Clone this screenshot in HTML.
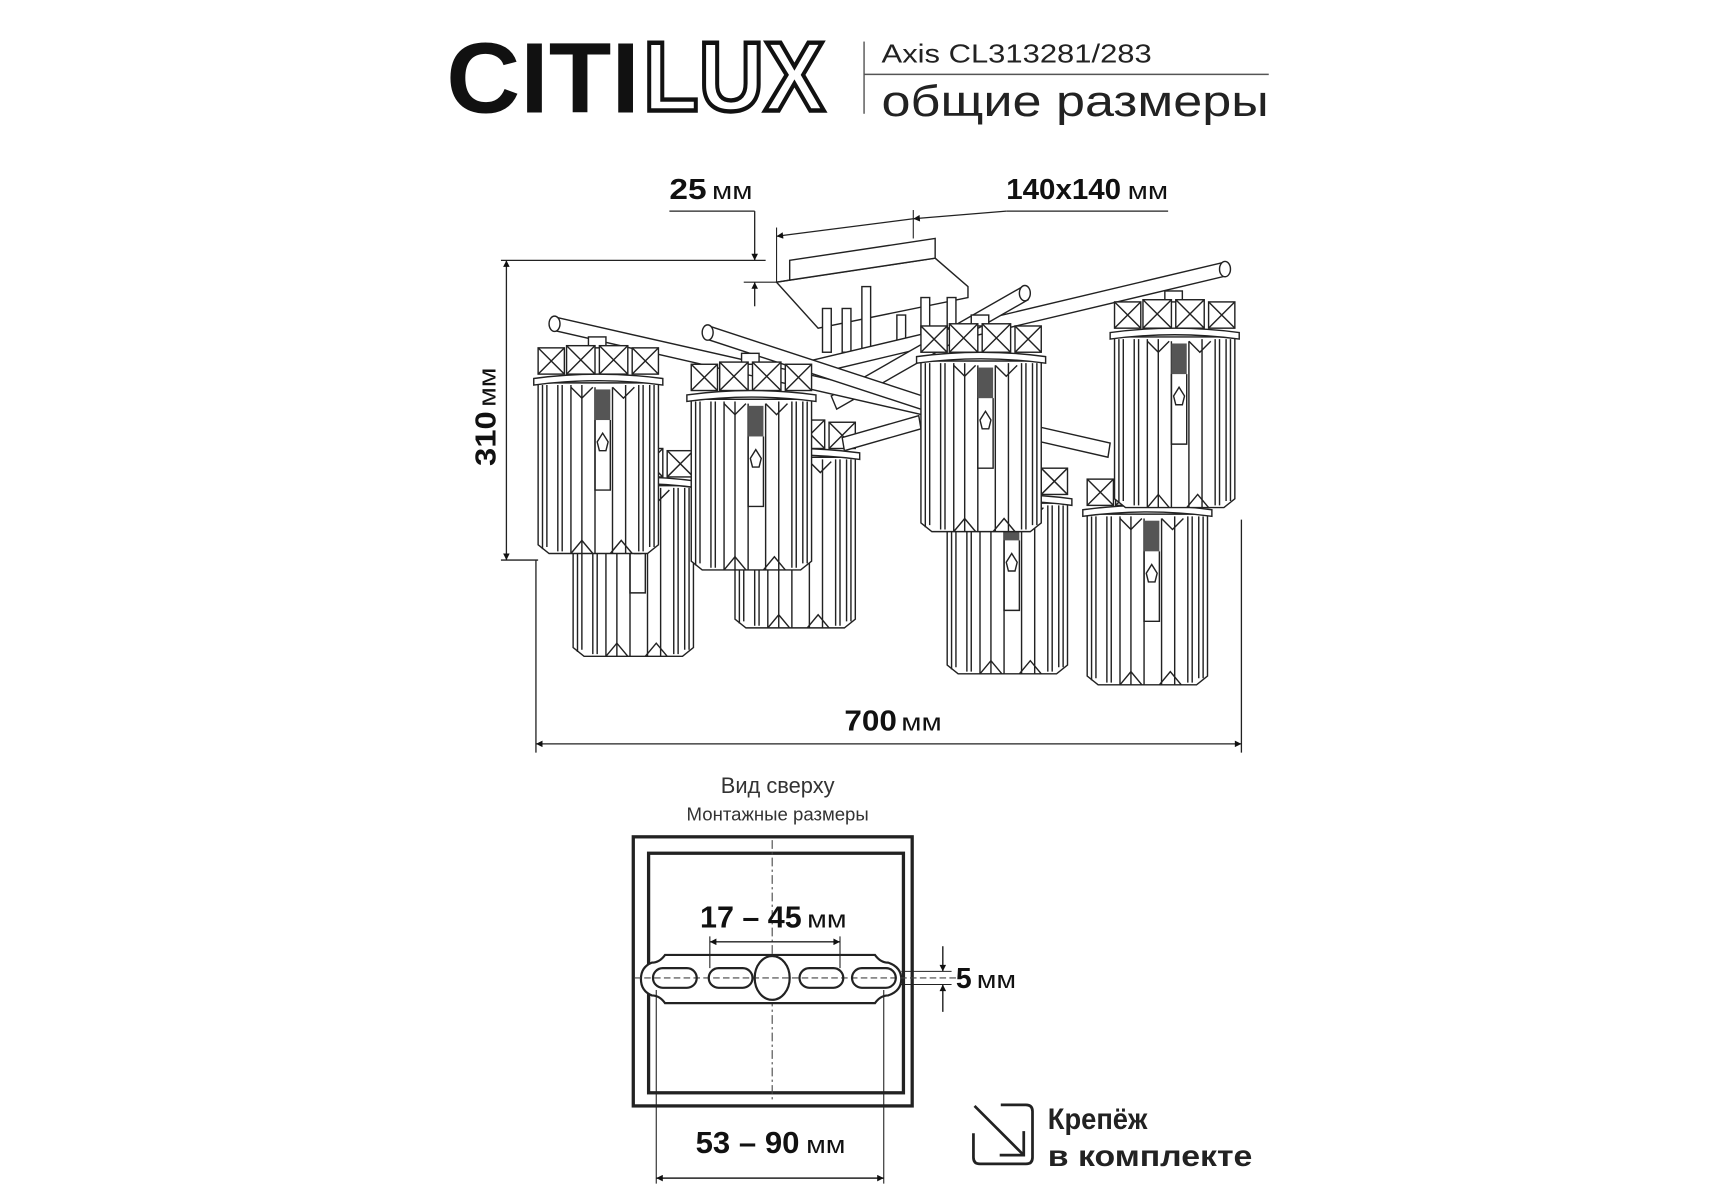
<!DOCTYPE html>
<html><head><meta charset="utf-8"><style>
html,body{margin:0;padding:0;background:#fff;}
svg{display:block}
text{font-family:"Liberation Sans",sans-serif;}
</style></head><body>
<svg width="1715" height="1200" viewBox="0 0 1568 1097" preserveAspectRatio="none" xmlns="http://www.w3.org/2000/svg">
<defs>
<marker id="ar" viewBox="0 0 10 10" refX="10" refY="5" markerWidth="9" markerHeight="6" orient="auto-start-reverse" markerUnits="userSpaceOnUse"><path d="M0,0 L10,5 L0,10 z" fill="#111"/></marker>
<g id="cyl" fill="#fff" stroke="#222" stroke-width="1.3">
  <path d="M4,42 L4,190 L14,198 L104,198 L114,190 L114,42 Z"/>
  <rect x="50" y="0" width="16" height="10"/>
  <rect x="4" y="10" width="24" height="24"/><rect x="30" y="8" width="26" height="26"/><rect x="60" y="8" width="26" height="26"/><rect x="90" y="10" width="24" height="24"/>
  <path d="M30,8 L56,34 M56,8 L30,34 M60,8 L86,34 M86,8 L60,34 M4,10 L28,34 M28,10 L4,34 M90,10 L114,34 M114,10 L90,34" fill="none"/>
  <path d="M0,38 Q59,30 118,38 L118,44 Q59,36 0,44 Z"/>
  <path d="M8,44 V194 M12,44 V192 M22,44 V196 M26,44 V196 M34,44 V198 M44,44 V198 M56,46 V198 M72,46 V198 M84,44 V198 M96,44 V196 M100,44 V196 M106,44 V192 M110,44 V192" fill="none"/>
  <path d="M34,46 L44,56 L54,46 M72,46 L82,56 L92,46 M34,198 L44,186 L54,198 M70,198 L80,186 L90,198" fill="none"/>
  <rect x="56" y="48" width="14" height="28" fill="#555" stroke="none"/>
  <path d="M56,76 V140 H70 V76 M58,96 L63,88 L68,96 L66,104 H60 Z" fill="none"/>
</g>
</defs>

<!-- Logo -->
<text x="408" y="103" font-size="92" font-weight="bold" textLength="177" lengthAdjust="spacingAndGlyphs" fill="#111">CITI</text>
<text x="588" y="101" font-size="90" font-weight="bold" textLength="166" lengthAdjust="spacingAndGlyphs" fill="#fff" stroke="#111" stroke-width="4">LUX</text>
<line x1="790" y1="38" x2="790" y2="104" stroke="#555" stroke-width="1.3"/>
<line x1="790" y1="68" x2="1160" y2="68" stroke="#555" stroke-width="1.3"/>
<text x="806" y="57" font-size="24" textLength="247" lengthAdjust="spacingAndGlyphs" fill="#222">Axis CL313281/283</text>
<text x="806" y="106" font-size="40" textLength="354" lengthAdjust="spacingAndGlyphs" fill="#222">общие размеры</text>

<!-- dimensions top -->
<text x="612" y="182" font-size="26" font-weight="bold" fill="#111" textLength="34" lengthAdjust="spacingAndGlyphs">25</text>
<text x="651" y="182" font-size="22" fill="#111" textLength="37" lengthAdjust="spacingAndGlyphs">мм</text>
<line x1="612" y1="193" x2="690" y2="193" stroke="#222" stroke-width="1.2"/>
<line x1="690" y1="193" x2="690" y2="238" stroke="#222" stroke-width="1.2" marker-end="url(#ar)"/>
<line x1="690" y1="280" x2="690" y2="258" stroke="#222" stroke-width="1.2" marker-end="url(#ar)"/>
<line x1="680" y1="258" x2="710" y2="258" stroke="#222" stroke-width="1"/>
<text x="920" y="182" font-size="26" font-weight="bold" fill="#111" textLength="105" lengthAdjust="spacingAndGlyphs">140x140</text>
<text x="1031" y="182" font-size="22" fill="#111" textLength="37" lengthAdjust="spacingAndGlyphs">мм</text>
<line x1="920" y1="193" x2="1068" y2="193" stroke="#222" stroke-width="1.2"/>
<line x1="920" y1="193" x2="835" y2="200" stroke="#222" stroke-width="1.2" marker-end="url(#ar)"/>
<line x1="835" y1="200" x2="710" y2="216" stroke="#222" stroke-width="1.2" marker-end="url(#ar)"/>
<line x1="835" y1="192" x2="835" y2="218" stroke="#222" stroke-width="1"/>
<line x1="710" y1="208" x2="710" y2="258" stroke="#222" stroke-width="1"/>

<!-- 310 -->
<line x1="458" y1="238" x2="700" y2="238" stroke="#222" stroke-width="1.2"/>
<line x1="458" y1="512" x2="492" y2="512" stroke="#222" stroke-width="1.2"/>
<line x1="463" y1="238" x2="463" y2="512" stroke="#222" stroke-width="1.2" marker-start="url(#ar)" marker-end="url(#ar)"/>
<text transform="translate(453,426) rotate(-90)" font-size="26" font-weight="bold" fill="#111" textLength="50" lengthAdjust="spacingAndGlyphs">310</text>
<text transform="translate(453,372) rotate(-90)" font-size="22" fill="#111" textLength="36" lengthAdjust="spacingAndGlyphs">мм</text>

<!-- 700 -->
<line x1="490" y1="512" x2="490" y2="688" stroke="#222" stroke-width="1.2"/>
<line x1="1135" y1="475" x2="1135" y2="688" stroke="#222" stroke-width="1.2"/>
<line x1="490" y1="680" x2="1135" y2="680" stroke="#222" stroke-width="1.2" marker-start="url(#ar)" marker-end="url(#ar)"/>
<text x="772" y="668" font-size="26" font-weight="bold" fill="#111" textLength="48" lengthAdjust="spacingAndGlyphs">700</text>
<text x="824" y="668" font-size="22" fill="#111" textLength="37" lengthAdjust="spacingAndGlyphs">мм</text>

<!-- canopy -->
<g fill="#fff" stroke="#222" stroke-width="1.3">
  <path d="M710,258 L855,236 L885,262 L885,272 L748,300 Z"/>
  <path d="M722,238 L855,218 L855,236 L722,256 Z"/>
  <line x1="710" y1="258" x2="722" y2="256"/>
</g>

<!-- chandelier back cylinders -->
<use href="#cyl" transform="translate(520,402)"/>
<use href="#cyl" transform="translate(668,376)"/>
<use href="#cyl" transform="translate(862,418)"/>
<use href="#cyl" transform="translate(990,428)"/>

<!-- arms -->
<g fill="#fff" stroke="#222" stroke-width="1.3">
  <rect x="752" y="282" width="8" height="40"/><rect x="770" y="282" width="8" height="40"/><rect x="788" y="262" width="8" height="60"/>
  <rect x="820" y="288" width="8" height="30"/><rect x="842" y="272" width="8" height="40"/><rect x="866" y="272" width="8" height="35"/>
  <path d="M740,330 L1118,240 L1122,252 L744,342 Z"/>
  <ellipse cx="1120" cy="246" rx="5" ry="7"/>
  <path d="M760,362 L935,262 L940,274 L765,374 Z"/>
  <ellipse cx="937" cy="268" rx="5" ry="7"/>
  <path d="M508,290 L1015,405 L1013,418 L506,302 Z"/>
  <ellipse cx="507" cy="296" rx="5" ry="7"/>
  <path d="M648,298 L862,368 L860,380 L646,310 Z"/>
  <ellipse cx="647" cy="304" rx="5" ry="7"/>
  <path d="M770,400 L840,380 L842,392 L772,412 Z"/>
</g>

<!-- front cylinders -->
<use href="#cyl" transform="translate(488,308)"/>
<use href="#cyl" transform="translate(628,323)"/>
<use href="#cyl" transform="translate(838,288)"/>
<use href="#cyl" transform="translate(1015,266)"/>

<!-- bottom -->
<text x="711" y="725" font-size="20" text-anchor="middle" fill="#333">Вид сверху</text>
<text x="711" y="750" font-size="17" text-anchor="middle" fill="#333">Монтажные размеры</text>
<rect x="579" y="765" width="255" height="246" fill="none" stroke="#222" stroke-width="3"/>
<rect x="593" y="780" width="233" height="219" fill="none" stroke="#222" stroke-width="3"/>
<line x1="706" y1="768" x2="706" y2="1008" stroke="#444" stroke-width="1" stroke-dasharray="8,3,2,3"/>
<path d="M608,873 H800 Q805,880 812,880 Q824,884 824,895 Q824,906 812,910 Q805,910 800,917 H608 Q603,910 596,910 Q586,906 586,895 Q586,884 596,880 Q603,880 608,873 Z" fill="#fff" stroke="#222" stroke-width="2"/>
<line x1="580" y1="894" x2="880" y2="894" stroke="#444" stroke-width="1" stroke-dasharray="6,3"/>
<g fill="none" stroke="#222" stroke-width="2">
  <rect x="597" y="885" width="40" height="18" rx="9"/>
  <rect x="648" y="885" width="40" height="18" rx="9"/>
  <rect x="731" y="885" width="40" height="18" rx="9"/>
  <rect x="779" y="885" width="40" height="18" rx="9"/>
  <ellipse cx="706" cy="894" rx="16" ry="20"/>
</g>
<line x1="649" y1="856" x2="649" y2="885" stroke="#222" stroke-width="1"/>
<line x1="768" y1="856" x2="768" y2="885" stroke="#222" stroke-width="1"/>
<line x1="649" y1="861" x2="768" y2="861" stroke="#222" stroke-width="1.3" marker-start="url(#ar)" marker-end="url(#ar)"/>
<text x="640" y="848" font-size="28" font-weight="bold" fill="#111" textLength="93" lengthAdjust="spacingAndGlyphs">17 – 45</text>
<text x="738" y="848" font-size="22" fill="#111" textLength="36" lengthAdjust="spacingAndGlyphs">мм</text>
<line x1="824" y1="888" x2="870" y2="888" stroke="#222" stroke-width="1"/>
<line x1="824" y1="900" x2="870" y2="900" stroke="#222" stroke-width="1"/>
<line x1="862" y1="865" x2="862" y2="888" stroke="#222" stroke-width="1.3" marker-end="url(#ar)"/>
<line x1="862" y1="925" x2="862" y2="900" stroke="#222" stroke-width="1.3" marker-end="url(#ar)"/>
<text x="874" y="903" font-size="26" font-weight="bold" fill="#111">5</text>
<text x="893" y="903" font-size="22" fill="#111" textLength="36" lengthAdjust="spacingAndGlyphs">мм</text>
<line x1="600" y1="905" x2="600" y2="1082" stroke="#222" stroke-width="1"/>
<line x1="808" y1="905" x2="808" y2="1082" stroke="#222" stroke-width="1"/>
<line x1="600" y1="1077" x2="808" y2="1077" stroke="#222" stroke-width="1.3" marker-start="url(#ar)" marker-end="url(#ar)"/>
<text x="636" y="1054" font-size="28" font-weight="bold" fill="#111" textLength="95" lengthAdjust="spacingAndGlyphs">53 – 90</text>
<text x="737" y="1054" font-size="22" fill="#111" textLength="36" lengthAdjust="spacingAndGlyphs">мм</text>

<!-- icon -->
<path d="M915,1010 H938 Q944,1010 944,1016 V1058 Q944,1064 938,1064 H896 Q890,1064 890,1058 V1036" fill="none" stroke="#222" stroke-width="2.5"/>
<line x1="891" y1="1011" x2="935" y2="1055" stroke="#222" stroke-width="2.5"/>
<path d="M936,1034 V1056 H914" fill="none" stroke="#222" stroke-width="2.5"/>
<text x="958" y="1032" font-size="27" font-weight="bold" fill="#222" textLength="91" lengthAdjust="spacingAndGlyphs">Крепёж</text>
<text x="958" y="1066" font-size="27" font-weight="bold" fill="#222" textLength="187" lengthAdjust="spacingAndGlyphs">в комплекте</text>
</svg>
</body></html>
